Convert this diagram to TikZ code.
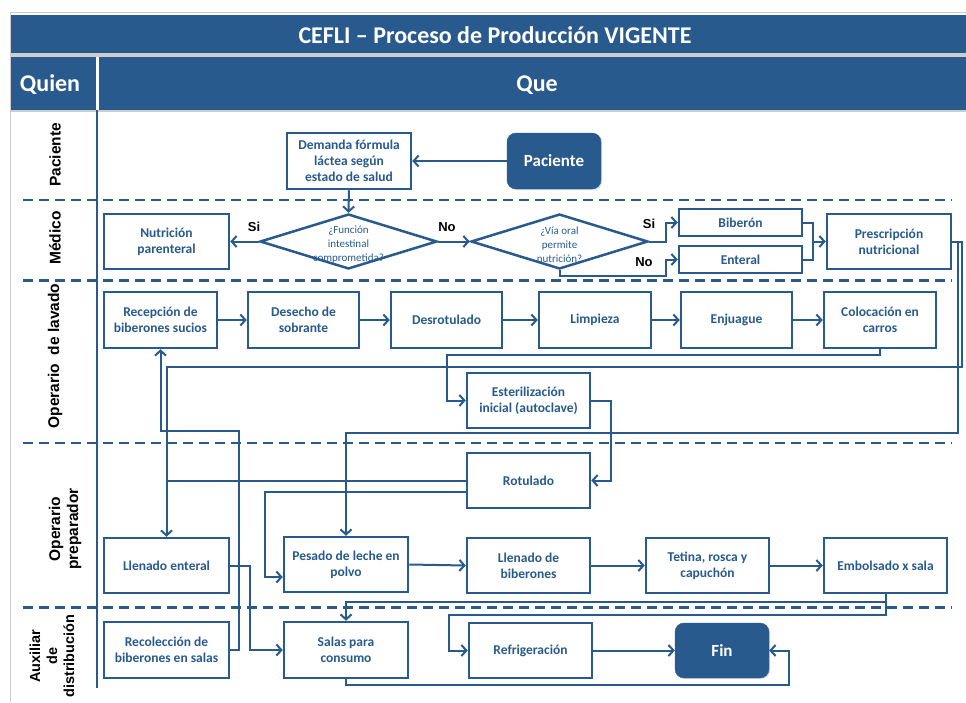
\documentclass[tikz,border=0pt]{standalone}
\usepackage{fontspec}
\setmainfont{Carlito}
\newfontfamily\arialf{Liberation Sans}
\usetikzlibrary{arrows.meta,shapes.geometric,shadows}
\definecolor{cblue}{RGB}{41,90,142}
\definecolor{cgray}{RGB}{205,205,205}
\begin{document}
\begin{tikzpicture}[x=1pt,y=-1pt,
  box/.style={draw=cblue, line width=2.5pt, fill=white, text=cblue, align=center, inner sep=1pt,
    font=\fontsize{13.5}{16}\selectfont\bfseries,
    drop shadow={shadow xshift=1.2pt, shadow yshift=-1.2pt, opacity=0.25}},
  term/.style={fill=cblue, draw=cblue, rounded corners=9pt, text=white, align=center,
    font=\fontsize{17}{20}\selectfont\bfseries,
    drop shadow={shadow xshift=1.2pt, shadow yshift=-1.2pt, opacity=0.25}},
  dia/.style={diamond, draw=cblue, line width=2.5pt, fill=white, inner sep=0pt, aspect=3.2},
  diatext/.style={text=cblue, align=center, font=\fontsize{11}{14}\selectfont},
  conn/.style={draw=cblue, line width=2pt},
  arr/.style={conn, -{Straight Barb[length=5pt,width=11pt]}},
  lane/.style={rotate=90, align=center, font=\arialf\fontsize{15.5}{18}\selectfont\bfseries},
  yn/.style={font=\arialf\fontsize{13}{14}\selectfont\bfseries},
  sep/.style={draw=cblue, line width=2.5pt, dash pattern=on 10pt off 6pt},
  hdr/.style={fill=cblue, draw=none, text=white, font=\fontsize{24}{26}\selectfont\bfseries}
]
\useasboundingbox (0,0) rectangle (966,702);
\fill[white] (0,0) rectangle (966,702);
% frame
\draw[cgray, line width=1pt] (966,12) -- (10.5,12) -- (10.5,702);
\fill[cblue] (11,15) rectangle (966,52.5);
\fill[cgray] (11,53) rectangle (966,56.5);
\fill[cblue] (11,57) rectangle (96,109.5);
\fill[cblue] (98.5,57) rectangle (966,109.5);
\draw[cgray, line width=1.2pt] (11,111) -- (966,111);
\node[hdr] (title) at (495,35) {CEFLI – Proceso de Producción VIGENTE};
\node[hdr] (quien) at (50,85) {Quien};
\node[hdr] (que) at (537,85) {Que};
\draw[cblue, line width=2.5pt] (97,110) -- (97,688);
% lane separators
\draw[sep] (23,200) -- (952,200);
\draw[sep] (23,280.5) -- (952,280.5);
\draw[sep] (23,443) -- (952,443);
\draw[sep] (23,607.5) -- (952,607.5);
% lane labels
\node[lane] (lpac) at (55,155) {Paciente};
\node[lane] (lmed) at (55,238) {Médico};
\node[lane] (llav) at (55,356) {Operario \ de lavado};
\node[lane] (lpre) at (65,529) {Operario\\preparador};
\node[lane, font=\arialf\fontsize{14.5}{17}\selectfont\bfseries] (laux) at (52,656) {Auxiliar\\de\\distribución};
% nodes
\node[box, minimum width=124pt, minimum height=56pt] (dem) at (349,161) {Demanda fórmula\\láctea según\\estado de salud};
\node[term, minimum width=94pt, minimum height=56pt] (pac) at (554,161) {Paciente};
\node[box, minimum width=125pt, minimum height=55pt] (nutr) at (166.5,241.5) {Nutrición\\parenteral};
\node[dia, minimum width=177pt, minimum height=55pt] (d1) at (348.5,241.5) {};
\node[diatext] (d1t) at (348.5,245) {¿Función\\intestinal\\comprometida?};
\node[dia, minimum width=177pt, minimum height=55pt] (d2) at (559.5,241.5) {};
\node[diatext] (d2t) at (559.5,245) {¿Vía oral\\permite\\nutrición?};
\node[box, minimum width=123pt, minimum height=27pt] (bib) at (740.5,222.5) {Biberón};
\node[box, minimum width=123pt, minimum height=27pt] (ent) at (740.5,259.5) {Enteral};
\node[box, minimum width=124pt, minimum height=55pt] (presc) at (889,241.5) {Prescripción\\nutricional};
\node[box, minimum width=113pt, minimum height=56pt] (recep) at (160.5,320) {Recepción de\\biberones sucios};
\node[box, minimum width=111pt, minimum height=56pt] (desecho) at (303.5,320) {Desecho de\\sobrante};
\node[box, minimum width=111pt, minimum height=56pt] (desrot) at (446.5,320) {Desrotulado};
\node[box, minimum width=112pt, minimum height=56pt] (limp) at (595,320) {Limpieza};
\node[box, minimum width=111pt, minimum height=56pt] (enj) at (736.5,320) {Enjuague};
\node[box, minimum width=112pt, minimum height=56pt] (coloc) at (880,320) {Colocación en\\carros};
\node[box, minimum width=123pt, minimum height=55pt] (ester) at (528.5,400.5) {Esterilización\\inicial (autoclave)};
\node[box, minimum width=123pt, minimum height=55pt] (rot) at (528.5,480.5) {Rotulado};
\node[box, minimum width=125pt, minimum height=55pt] (llent) at (166.5,565.5) {Llenado enteral};
\node[box, minimum width=124pt, minimum height=55pt] (pesado) at (346,564.5) {Pesado de leche en\\polvo};
\node[box, minimum width=123pt, minimum height=55pt] (llbib) at (528.5,565.5) {Llenado de\\biberones};
\node[box, minimum width=123pt, minimum height=55pt] (tet) at (707.5,565.5) {Tetina, rosca y\\capuchón};
\node[box, minimum width=123pt, minimum height=55pt] (emb) at (885.5,565.5) {Embolsado x sala};
\node[box, minimum width=125pt, minimum height=56pt] (recol) at (166.5,650) {Recolección de\\biberones en salas};
\node[box, minimum width=124pt, minimum height=56pt] (salas) at (346,650) {Salas para\\consumo};
\node[box, minimum width=123pt, minimum height=55pt] (refr) at (530.5,650.5) {Refrigeración};
\node[term, minimum width=94pt, minimum height=55pt] (fin) at (722,650.5) {Fin};
% connectors
\draw[arr] (pac.west) -- (dem.east);
\draw[arr] (dem.south) -- (d1.north);
\draw[arr] (d1.west) -- (nutr.east);
\node[yn] (si1) at (254,227) {Si};
\draw[arr] (d1.east) -- (d2.west);
\node[yn] (no1) at (447,227) {No};
\draw[arr] (d2.east) -- (666,241.5) |- (bib.west);
\node[yn] (si2) at (649,224) {Si};
\draw[arr] (d2.south) -- (559.5,276) -- (666,276) |- (ent.west);
\node[yn] (no2) at (644,262) {No};
\coordinate (mj) at (813,241.5);
\draw[conn] (bib.east) -- (813,222.5) -- (813,259.5) -- (ent.east);
\draw[arr] (mj) -- (presc.west);
\draw[arr] (presc.east) -- (962,241.5) -- (962,367) -- (166.5,367) -- (llent.north);
\draw[arr] (presc.east) -- (958,241.5) -- (958,433) -- (346,433) -- (pesado.north);
\draw[arr] (recep.east) -- (desecho.west);
\draw[arr] (desecho.east) -- (desrot.west);
\draw[arr] (desrot.east) -- (limp.west);
\draw[arr] (limp.east) -- (enj.west);
\draw[arr] (enj.east) -- (coloc.west);
\draw[arr] (coloc.south) -- (880,355) -- (447,355) |- (ester.west);
\draw[arr] (ester.east) -- (611,400.5) |- (rot.east);
\draw[conn] (rot.west) -- (166.5,480.5);
\draw[arr] ([yshift=-11.5pt]rot.west) -- (265,492) -- (265,577) -- ([yshift=-12.5pt]pesado.west);
\draw[arr] (pesado.east) -- (llbib.west);
\draw[arr] (llbib.east) -- (tet.west);
\draw[arr] (tet.east) -- (emb.west);
\draw[arr] (emb.south) -- (885.5,602) -- (346,602) -- (salas.north);
\draw[arr] (emb.south) -- (885.5,615) -- (449,615) |- (refr.west);
\draw[arr] (refr.east) -- (fin.west);
\draw[arr] (salas.south) -- (346,685) -- (789,685) |- (fin.east);
\draw[arr] (llent.east) -- (250,565.5) |- (salas.west);
\draw[arr] (recol.east) -- (239,650) -- (239,431) -- (160.5,431) -- (recep.south);
\end{tikzpicture}
\end{document}
